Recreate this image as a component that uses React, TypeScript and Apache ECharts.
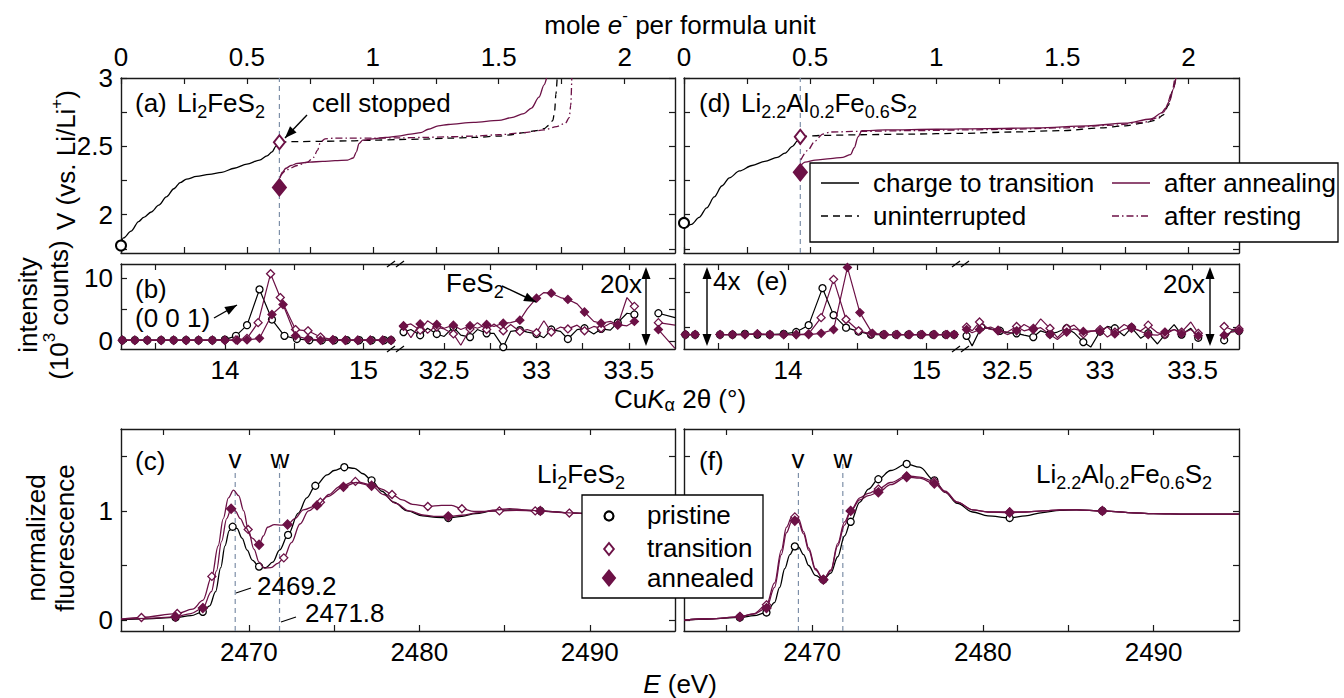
import React, { useEffect, useRef } from 'react';
import * as echarts from 'echarts';

const FONT = '"Liberation Sans", Arial, Helvetica, sans-serif';
const FS = 26;
const PURPLE = '#6c1146';
const BLACK = '#000000';
const FRAME = '#1a1a1a';
const GUIDE = '#7d8fa8';

// ---------- tick values / labels ----------
const moleTicks = [0, 0.25, 0.5, 0.75, 1, 1.25, 1.5, 1.75, 2];
const moleLabels = [0, 0.5, 1, 1.5, 2];
const voltTicks = [1.75, 2, 2.25, 2.5, 2.75, 3];
const voltLabels = [2, 2.5, 3];
const thetaLoTicks = [13.5, 14, 14.5, 15];
const thetaLoLabels = [14, 15];
const thetaHiTicks = [32.5, 32.75, 33, 33.25, 33.5];
const thetaHiLabels = [32.5, 33, 33.5];
const intTicks = [0, 5, 10];
const intLabels = [0, 10];
const eIntTicks = [2.2, 7.7];
const energyTicks = [2465, 2470, 2475, 2480, 2485, 2490];
const energyLabels = [2470, 2480, 2490];
const fluoTicks = [0, 0.5, 1, 1.5];
const fluoLabels = [0, 1];

// ---------- panel (a) Li2FeS2 ----------
const aStopX = 0.629;
const aCharge = [[0, 1.79], [0.01, 1.83], [0.04, 1.88], [0.07, 1.95], [0.09, 1.98], [0.12, 2.02], [0.15, 2.07], [0.18, 2.13], [0.21, 2.19], [0.235, 2.235], [0.26, 2.26], [0.3, 2.28], [0.35, 2.295], [0.4, 2.31], [0.45, 2.34], [0.5, 2.37], [0.55, 2.4], [0.58, 2.43], [0.6, 2.46], [0.615, 2.5], [0.629, 2.53]];
const aUninterrupted = [[0.629, 2.53], [0.7, 2.535], [0.8, 2.537], [0.9, 2.54], [1.0, 2.545], [1.1, 2.55], [1.2, 2.553], [1.3, 2.56], [1.4, 2.565], [1.5, 2.575], [1.55, 2.585], [1.6, 2.6], [1.65, 2.615], [1.68, 2.63], [1.7, 2.655], [1.715, 2.69], [1.722, 2.76], [1.727, 2.88], [1.732, 3.0]];
const aAnnealing = [[0.632, 2.27], [0.64, 2.31], [0.655, 2.34], [0.675, 2.36], [0.7, 2.375], [0.75, 2.385], [0.8, 2.39], [0.85, 2.395], [0.9, 2.4], [0.922, 2.415], [0.935, 2.46], [0.945, 2.52], [0.96, 2.545], [1.0, 2.555], [1.05, 2.565], [1.1, 2.575], [1.15, 2.59], [1.19, 2.6], [1.22, 2.625], [1.26, 2.65], [1.3, 2.66], [1.4, 2.675], [1.5, 2.69], [1.55, 2.71], [1.6, 2.74], [1.63, 2.78], [1.66, 2.86], [1.68, 2.95], [1.69, 3.0]];
const aResting = [[0.632, 2.28], [0.66, 2.33], [0.7, 2.36], [0.74, 2.385], [0.765, 2.42], [0.78, 2.47], [0.792, 2.53], [0.81, 2.555], [0.85, 2.56], [0.9, 2.56], [1.0, 2.56], [1.1, 2.562], [1.2, 2.565], [1.3, 2.57], [1.4, 2.575], [1.5, 2.585], [1.6, 2.6], [1.68, 2.62], [1.73, 2.645], [1.765, 2.67], [1.78, 2.71], [1.786, 2.8], [1.79, 3.0]];
const aPristinePt = [[0, 1.775]];
const aTransitionPt = [[0.629, 2.53]];
const aAnnealedPt = [[0.629, 2.2]];

// ---------- panel (d) Li2.2Al0.2Fe0.6S2 ----------
const dStopX = 0.461;
const dCharge = [[0, 1.9], [0.03, 1.93], [0.06, 1.98], [0.09, 2.05], [0.12, 2.13], [0.15, 2.21], [0.18, 2.27], [0.22, 2.32], [0.27, 2.36], [0.32, 2.39], [0.37, 2.42], [0.4, 2.45], [0.43, 2.5], [0.45, 2.54], [0.461, 2.57]];
const dUninterrupted = [[0.461, 2.57], [0.55, 2.58], [0.7, 2.585], [0.9, 2.59], [1.1, 2.595], [1.3, 2.605], [1.5, 2.615], [1.65, 2.635], [1.75, 2.65], [1.82, 2.67], [1.87, 2.69], [1.9, 2.73], [1.92, 2.8], [1.935, 2.9], [1.95, 3.0]];
const dAnnealing = [[0.463, 2.36], [0.48, 2.385], [0.52, 2.4], [0.58, 2.41], [0.63, 2.42], [0.66, 2.44], [0.675, 2.49], [0.69, 2.57], [0.705, 2.615], [0.8, 2.62], [1.0, 2.625], [1.2, 2.63], [1.4, 2.635], [1.6, 2.65], [1.75, 2.67], [1.85, 2.7], [1.9, 2.75], [1.925, 2.83], [1.94, 2.92], [1.95, 3.0]];
const dResting = [[0.463, 2.4], [0.49, 2.47], [0.52, 2.54], [0.55, 2.59], [0.58, 2.605], [0.7, 2.61], [0.9, 2.615], [1.1, 2.62], [1.3, 2.625], [1.5, 2.635], [1.7, 2.655], [1.82, 2.675], [1.88, 2.71], [1.91, 2.78], [1.935, 2.9], [1.945, 3.0]];
const dPristinePt = [[0, 1.94]];
const dTransitionPt = [[0.461, 2.57]];
const dAnnealedPt = [[0.461, 2.31]];

// ---------- panel (b) XRD Li2FeS2 ----------
const bPristineL = [[13.26, 0.1], [13.35, 0.1], [13.44, 0.1], [13.54, 0.1], [13.63, 0.1], [13.72, 0.1], [13.81, 0.1], [13.91, 0.1], [14.0, 0.2], [14.08, 0.8], [14.16, 2.5], [14.25, 8.2], [14.34, 3.4], [14.43, 0.8], [14.52, 0.3], [14.61, 0.1], [14.7, 0.1], [14.79, 0.1], [14.88, 0.1], [14.97, 0.1], [15.06, 0.1], [15.15, 0.1], [15.2, 0.1]];
const bTransitionL = [[13.26, 0.1], [13.35, 0.1], [13.44, 0.1], [13.54, 0.1], [13.63, 0.1], [13.72, 0.1], [13.81, 0.1], [13.91, 0.1], [14.0, 0.1], [14.08, 0.15], [14.16, 0.4], [14.24, 2.9], [14.33, 10.7], [14.4, 6.9], [14.51, 1.8], [14.6, 1.6], [14.69, 0.6], [14.78, 0.2], [14.87, 0.1], [14.96, 0.1], [15.05, 0.1], [15.14, 0.1], [15.2, 0.1]];
const bAnnealedL = [[13.26, 0.1], [13.35, 0.1], [13.44, 0.1], [13.54, 0.1], [13.63, 0.1], [13.72, 0.1], [13.81, 0.1], [13.91, 0.1], [14.0, 0.1], [14.09, 0.1], [14.16, 0.15], [14.25, 0.4], [14.34, 4.2], [14.42, 5.8], [14.51, 0.8], [14.6, 0.3], [14.69, 0.1], [14.78, 0.1], [14.87, 0.1], [14.96, 0.1], [15.05, 0.1], [15.14, 0.1], [15.2, 0.1]];
const bPristineR = [[32.28, 1.4], [32.32, 1.8], [32.37, 0.9], [32.41, 2.0], [32.46, 1.1], [32.5, 0.7], [32.55, 2.2], [32.59, 0.9], [32.64, 0.6], [32.68, 1.8], [32.73, 1.2], [32.77, 1.2], [32.82, -1.0], [32.86, 1.5], [32.91, 1.7], [32.95, 1.4], [33.0, 1.1], [33.04, 0.5], [33.08, 1.8], [33.13, 1.5], [33.17, 0.3], [33.22, 1.8], [33.26, 2.0], [33.31, 1.1], [33.35, 1.9], [33.4, 1.7], [33.44, 2.9], [33.49, 4.4], [33.53, 4.2], [33.58, null], [33.66, 4.4], [33.75, 3.7]];
const bTransitionR = [[32.28, 2.4], [32.32, 2.7], [32.37, 1.7], [32.41, 3.2], [32.46, 2.2], [32.5, 1.9], [32.55, 1.1], [32.59, -0.7], [32.64, 1.9], [32.68, 2.9], [32.73, 1.8], [32.77, 2.7], [32.82, 1.6], [32.86, 2.6], [32.91, 1.5], [32.95, 1.8], [33.0, 1.3], [33.04, 3.2], [33.08, 1.4], [33.13, 2.2], [33.17, 1.9], [33.22, 2.5], [33.26, 1.6], [33.31, 2.3], [33.35, 2.0], [33.4, 2.8], [33.44, 2.5], [33.49, 6.9], [33.53, 5.5], [33.58, null], [33.66, 2.9], [33.75, 2.5]];
const bAnnealedR = [[32.28, 2.3], [32.32, 0.5], [32.37, 2.7], [32.41, 1.2], [32.46, 2.6], [32.5, 2.0], [32.55, 2.5], [32.59, 1.8], [32.64, 2.4], [32.68, 2.0], [32.73, 2.6], [32.77, 2.3], [32.82, 2.8], [32.86, 2.9], [32.91, 3.3], [32.95, 5.1], [33.0, 6.8], [33.04, 7.7], [33.08, 7.6], [33.13, 6.9], [33.17, 6.6], [33.22, 5.9], [33.26, 4.6], [33.31, 3.1], [33.35, 2.8], [33.4, 3.1], [33.44, 2.6], [33.49, 2.4], [33.53, 3.1], [33.58, null], [33.66, 1.8], [33.75, -1.2]];

// ---------- panel (e) XRD Li2.2Al0.2Fe0.6S2 ----------
const ePristineL = [[13.26, 1.0], [13.33, 1.0], [13.4, null], [13.51, 1.0], [13.6, 1.0], [13.69, 1.1], [13.78, 1.0], [13.87, 1.0], [13.97, 1.1], [14.06, 1.4], [14.15, 2.5], [14.25, 8.4], [14.33, 4.1], [14.42, 2.1], [14.51, 1.5], [14.6, 1.0], [14.69, 1.0], [14.78, 1.0], [14.87, 1.0], [14.96, 1.0], [15.05, 1.0], [15.14, 1.0], [15.2, 1.0]];
const eTransitionL = [[13.26, 1.0], [13.33, 1.0], [13.4, null], [13.51, 1.0], [13.6, 1.0], [13.69, 1.0], [13.78, 1.1], [13.87, 1.0], [13.97, 1.0], [14.06, 1.0], [14.15, 1.1], [14.24, 3.7], [14.33, 9.8], [14.42, 3.4], [14.51, 1.6], [14.6, 1.1], [14.69, 1.0], [14.78, 1.0], [14.87, 1.0], [14.96, 1.0], [15.05, 1.0], [15.14, 1.0], [15.2, 1.0]];
const eAnnealedL = [[13.26, 1.0], [13.33, 1.0], [13.4, null], [13.51, 1.0], [13.6, 1.0], [13.69, 1.0], [13.78, 1.1], [13.87, 1.0], [13.97, 1.0], [14.06, 1.0], [14.15, 1.0], [14.24, 1.2], [14.33, 1.8], [14.43, 11.7], [14.52, 4.5], [14.61, 1.2], [14.7, 1.0], [14.79, 1.0], [14.88, 1.0], [14.97, 1.0], [15.06, 1.0], [15.15, 1.0], [15.2, 1.0]];
const ePristineR = [[32.28, 0.8], [32.31, -0.8], [32.36, 2.2], [32.41, 1.9], [32.46, 1.6], [32.5, 1.3], [32.55, 1.2], [32.59, 0.9], [32.64, 0.6], [32.68, 1.6], [32.73, 1.1], [32.77, 1.4], [32.82, 2.0], [32.86, 1.3], [32.91, -0.2], [32.95, -1.0], [33.0, 1.5], [33.04, 2.3], [33.08, 2.0], [33.13, 0.8], [33.17, 2.1], [33.22, 0.4], [33.26, 1.2], [33.31, -0.5], [33.35, 1.0], [33.4, 2.6], [33.44, 1.0], [33.49, 2.0], [33.53, 0.5], [33.58, null], [33.67, 0.1], [33.71, 1.6], [33.75, 1.6]];
const eTransitionR = [[32.28, 2.2], [32.31, 1.6], [32.35, 3.0], [32.4, 1.9], [32.45, 1.6], [32.5, 1.4], [32.55, 2.3], [32.59, 1.6], [32.64, 2.0], [32.68, 3.5], [32.73, 2.0], [32.77, 0.5], [32.82, 2.0], [32.86, 2.5], [32.91, 1.1], [32.95, 1.5], [33.0, 1.8], [33.04, 0.6], [33.08, 1.4], [33.13, 2.6], [33.17, 2.0], [33.22, 1.6], [33.26, 2.5], [33.31, 1.3], [33.35, 1.0], [33.4, 1.8], [33.44, 1.4], [33.49, 3.0], [33.53, 1.2], [33.58, null], [33.67, 2.3], [33.71, 1.8], [33.75, 1.9]];
const eAnnealedR = [[32.28, 1.8], [32.31, 1.3], [32.35, 1.8], [32.41, 2.2], [32.45, 1.7], [32.5, 1.0], [32.55, 1.6], [32.59, 2.6], [32.64, 1.8], [32.68, 2.1], [32.73, 1.0], [32.77, 0.2], [32.82, 1.4], [32.86, 1.9], [32.91, 1.5], [32.95, 1.6], [33.0, 1.5], [33.04, 2.2], [33.08, 1.1], [33.13, 1.8], [33.17, 2.2], [33.22, 1.5], [33.26, 1.0], [33.31, 0.9], [33.35, 1.4], [33.4, 1.8], [33.44, 1.1], [33.49, 1.8], [33.53, 0.8], [33.58, null], [33.67, 0.9], [33.71, 1.4], [33.75, 1.6]];

// ---------- panel (c) S K-edge XANES Li2FeS2 ----------
const vEnergy = 2469.2;
const wEnergy = 2471.8;
const cPristine = [[2462.5, 0.005], [2464, 0.012], [2465.7, 0.024], [2466.6, 0.04], [2467.3, 0.076], [2467.7, 0.13], [2468.05, 0.26], [2468.35, 0.48], [2468.6, 0.68], [2468.85, 0.82], [2469.05, 0.855], [2469.3, 0.84], [2469.6, 0.75], [2469.9, 0.64], [2470.2, 0.55], [2470.6, 0.49], [2471.0, 0.48], [2471.4, 0.53], [2471.8, 0.64], [2472.3, 0.78], [2472.9, 0.98], [2473.4, 1.12], [2473.9, 1.23], [2474.6, 1.33], [2475.0, 1.37], [2475.6, 1.4], [2476.2, 1.39], [2476.7, 1.34], [2477.2, 1.28], [2477.8, 1.18], [2478.5, 1.08], [2479.3, 1.0], [2480.2, 0.955], [2481.0, 0.94], [2481.7, 0.935], [2482.5, 0.95], [2483.3, 0.975], [2484.3, 1.0], [2485.3, 1.01], [2486.3, 1.005], [2487.1, 1.0], [2488.5, 0.985], [2490, 0.975], [2492, 0.97], [2495, 0.97]];
const cPristineMarks = [2465.7, 2467.3, 2469.05, 2470.6, 2472.3, 2473.9, 2475.6, 2477.2, 2481.7, 2487.1];
const cTransition = [[2462.5, 0.008], [2463.7, 0.024], [2465.8, 0.06], [2466.7, 0.1], [2467.3, 0.18], [2467.83, 0.4], [2468.2, 0.68], [2468.5, 0.93], [2468.8, 1.12], [2469.1, 1.19], [2469.4, 1.14], [2469.7, 1.0], [2469.96, 0.83], [2470.3, 0.65], [2470.6, 0.53], [2470.9, 0.475], [2471.3, 0.48], [2471.7, 0.52], [2472.05, 0.57], [2472.5, 0.71], [2473.0, 0.88], [2473.5, 1.0], [2474.2, 1.08], [2474.7, 1.15], [2475.3, 1.22], [2476.25, 1.27], [2477.2, 1.24], [2477.8, 1.2], [2478.4, 1.15], [2479.0, 1.1], [2479.6, 1.06], [2480.5, 1.04], [2481.3, 1.05], [2481.9, 1.05], [2482.5, 1.02], [2483.2, 0.995], [2484.0, 0.995], [2484.7, 1.0], [2485.7, 1.005], [2486.8, 1.0], [2488.0, 0.99], [2488.8, 0.98], [2490.9, 0.975], [2493.0, 0.97], [2495, 0.97]];
const cTransitionMarks = [2463.7, 2465.8, 2467.83, 2469.96, 2472.05, 2474.2, 2476.25, 2478.4, 2480.5, 2482.5, 2484.7, 2486.8, 2488.8, 2490.9, 2493.0];
const cAnnealed = [[2462.5, 0.008], [2464, 0.015], [2465.7, 0.03], [2466.6, 0.06], [2467.3, 0.11], [2467.8, 0.26], [2468.1, 0.45], [2468.4, 0.72], [2468.7, 0.93], [2468.96, 1.02], [2469.2, 1.0], [2469.5, 0.93], [2469.8, 0.85], [2470.2, 0.75], [2470.6, 0.69], [2470.85, 0.77], [2471.1, 0.85], [2471.5, 0.875], [2471.9, 0.87], [2472.27, 0.875], [2472.7, 0.93], [2473.2, 1.01], [2474.0, 1.05], [2474.6, 1.13], [2475.55, 1.22], [2476.3, 1.26], [2477.2, 1.23], [2477.9, 1.15], [2478.6, 1.07], [2479.4, 1.0], [2480.3, 0.96], [2481.0, 0.95], [2481.7, 0.95], [2482.5, 0.96], [2483.5, 0.985], [2484.5, 1.01], [2485.3, 1.02], [2486.2, 1.01], [2487.1, 1.0], [2488.5, 0.985], [2490, 0.975], [2492, 0.97], [2495, 0.97]];
const cAnnealedMarks = [2465.7, 2467.3, 2468.96, 2470.6, 2472.27, 2474.0, 2475.55, 2477.2, 2481.7, 2487.1];

// ---------- panel (f) S K-edge XANES Li2.2Al0.2Fe0.6S2 ----------
const fPristine = [[2462.5, 0.0], [2464, 0.01], [2465.77, 0.024], [2466.6, 0.04], [2467.33, 0.07], [2467.8, 0.16], [2468.1, 0.3], [2468.4, 0.47], [2468.7, 0.6], [2468.99, 0.675], [2469.2, 0.67], [2469.5, 0.6], [2469.8, 0.5], [2470.2, 0.41], [2470.66, 0.37], [2471.1, 0.43], [2471.5, 0.58], [2471.9, 0.77], [2472.26, 0.9], [2472.8, 1.08], [2473.3, 1.2], [2473.88, 1.29], [2474.6, 1.37], [2475.54, 1.43], [2476.3, 1.4], [2477.16, 1.28], [2477.8, 1.17], [2478.5, 1.07], [2479.4, 0.99], [2480.3, 0.955], [2481.57, 0.935], [2482.5, 0.955], [2483.5, 0.985], [2484.5, 1.005], [2485.5, 1.01], [2487, 1.0], [2488.5, 0.985], [2490, 0.975], [2492, 0.97], [2495, 0.97]];
const fTransition = [[2462.5, 0.0], [2464, 0.012], [2465.77, 0.03], [2466.6, 0.06], [2467.33, 0.14], [2467.8, 0.34], [2468.2, 0.64], [2468.5, 0.85], [2468.8, 0.94], [2468.99, 0.945], [2469.2, 0.93], [2469.5, 0.81], [2469.8, 0.66], [2470.2, 0.47], [2470.66, 0.37], [2471.1, 0.45], [2471.5, 0.68], [2471.9, 0.87], [2472.26, 1.0], [2472.8, 1.12], [2473.3, 1.16], [2473.88, 1.2], [2474.6, 1.26], [2475.54, 1.32], [2476.3, 1.31], [2477.16, 1.27], [2477.8, 1.18], [2478.5, 1.08], [2479.4, 1.01], [2480.3, 0.99], [2481.57, 0.99], [2482.5, 0.99], [2483.5, 1.0], [2484.5, 1.01], [2485.5, 1.01], [2487, 1.0], [2488.5, 0.985], [2490, 0.975], [2492, 0.97], [2495, 0.97]];
const fAnnealed = [[2462.5, 0.0], [2464, 0.012], [2465.77, 0.03], [2466.6, 0.055], [2467.33, 0.11], [2467.8, 0.3], [2468.2, 0.6], [2468.5, 0.8], [2468.8, 0.9], [2468.99, 0.91], [2469.2, 0.9], [2469.5, 0.79], [2469.8, 0.64], [2470.2, 0.46], [2470.66, 0.37], [2471.1, 0.46], [2471.5, 0.7], [2471.9, 0.9], [2472.26, 1.0], [2472.8, 1.1], [2473.3, 1.14], [2473.88, 1.17], [2474.6, 1.24], [2475.54, 1.31], [2476.3, 1.3], [2477.16, 1.25], [2477.8, 1.17], [2478.5, 1.08], [2479.4, 1.01], [2480.3, 0.99], [2481.57, 0.985], [2482.5, 0.99], [2483.5, 1.0], [2484.5, 1.01], [2485.5, 1.01], [2487, 1.0], [2488.5, 0.985], [2490, 0.975], [2492, 0.97], [2495, 0.97]];
const fMarks = [2465.77, 2467.33, 2468.99, 2470.66, 2472.26, 2473.88, 2475.54, 2477.16, 2481.57, 2487];

// ---------- layout ----------
const grids = [
  { left: 121, top: 78, width: 554, height: 175 }, // a
  { left: 684, top: 78, width: 555, height: 175 }, // d
  { left: 121, top: 264, width: 277, height: 85 }, // b low
  { left: 398, top: 264, width: 277, height: 85 }, // b high
  { left: 684, top: 264, width: 277, height: 85 }, // e low
  { left: 961, top: 264, width: 278, height: 85 }, // e high
  { left: 121, top: 429, width: 554, height: 202 }, // c
  { left: 684, top: 429, width: 555, height: 202 }, // f
];

const fmt = (v: number) => String(v);

function axis(gridIndex: number, position: string, min: number, max: number, ticks: number[], labels: number[] | null, showLine = true) {
  return {
    type: 'value',
    gridIndex,
    position,
    min,
    max,
    axisLine: { show: showLine, onZero: false, lineStyle: { color: FRAME, width: 1.4 } },
    axisTick: { show: showLine, inside: true, length: 6, customValues: ticks, lineStyle: { color: FRAME, width: 1.2 } },
    axisLabel: { show: !!labels, customValues: labels || [], formatter: fmt, fontFamily: FONT, fontSize: FS, color: '#000', margin: 8 },
    splitLine: { show: false },
    minorTick: { show: false },
  };
}

function mkRich(lh: number) {
  return {
    n: { fontFamily: FONT, fontSize: FS, color: '#000', lineHeight: lh },
    i: { fontFamily: FONT, fontSize: FS, fontStyle: 'italic', color: '#000', lineHeight: lh },
    s: { fontFamily: FONT, fontSize: 18, color: '#000', verticalAlign: 'bottom', lineHeight: 18 },
    p: { fontFamily: FONT, fontSize: 17, color: '#000', verticalAlign: 'top', lineHeight: 18 },
  };
}
const rich = mkRich(36);
const richTight = mkRich(30);

function txt(x: number, y: number, text: string, align = 'left', rotation = 0, r: any = rich) {
  return { type: 'text', x, y, rotation, z: 60, silent: true, style: { text, rich: r, align, verticalAlign: 'middle', fontFamily: FONT, fontSize: FS, fill: '#000' } };
}
function seg(x1: number, y1: number, x2: number, y2: number, stroke = '#000', lineWidth = 1.4, lineDash: number[] | null = null, z = 60) {
  return { type: 'line', z, silent: true, shape: { x1, y1, x2, y2 }, style: { stroke, lineWidth, lineDash } };
}
function head(x1: number, y1: number, x2: number, y2: number, len = 12, half = 4.5) {
  const dx = x2 - x1, dy = y2 - y1, L = Math.hypot(dx, dy), ux = dx / L, uy = dy / L;
  const bx = x2 - ux * len, by = y2 - uy * len;
  return { type: 'polygon', z: 61, silent: true, shape: { points: [[x2, y2], [bx - uy * half, by + ux * half], [bx + uy * half, by - ux * half]] }, style: { fill: '#000' } };
}
function arrow(x1: number, y1: number, x2: number, y2: number) {
  return [seg(x1, y1, x2, y2), head(x1, y1, x2, y2)];
}
function dbl(x: number, y1: number, y2: number) {
  return [seg(x, y1 + 4, x, y2 - 4), head(x, y2, x, y1), head(x, y1, x, y2)];
}
function brk(cx: number, top: number, bottom: number) {
  const out: any[] = [];
  [top, bottom].forEach((e) => {
    out.push(seg(cx - 10, e + 3, cx - 2, e - 3, '#000', 1.2));
    out.push(seg(cx - 1, e + 3, cx + 7, e - 3, '#000', 1.2));
  });
  return out;
}
function diamond(cx: number, cy: number, r: number, fill: string, stroke: string) {
  return { type: 'polygon', z: 61, silent: true, shape: { points: [[cx, cy - r], [cx + r * 0.8, cy], [cx, cy + r], [cx - r * 0.8, cy]] }, style: { fill, stroke, lineWidth: 2 } };
}

function curve(ax: number, data: any[], color: string, dash: any = 'solid', width = 1.3, z = 3, smooth: any = 0.3) {
  return { type: 'line', xAxisIndex: ax, yAxisIndex: ax, data, showSymbol: false, symbol: 'none', smooth, smoothMonotone: 'x', lineStyle: { color, width, type: dash }, silent: true, z, animation: false };
}
function pts(ax: number, data: any[], sym: string, size: any, fill: string, stroke: string, z = 5) {
  return { type: 'scatter', xAxisIndex: ax, yAxisIndex: ax, data, symbol: sym, symbolSize: size, itemStyle: { color: fill, borderColor: stroke, borderWidth: 2, opacity: 1 }, silent: true, z, animation: false };
}
// every: draw a marker on every n-th measured point (the others are plain vertices of the polyline)
function dots(ax: number, data: any[], color: string, sym: string, fill: string, size: number, z: number, every = 1) {
  const d = data.map((p: any[], i: number) => (p[1] === null ? p : i % every === 0 ? { value: p } : { value: p, symbol: 'none', symbolSize: 0 }));
  return { type: 'line', xAxisIndex: ax, yAxisIndex: ax, data: d, showSymbol: true, symbol: sym, symbolSize: size, connectNulls: false, lineStyle: { color, width: 1.2 }, itemStyle: { color: fill, borderColor: color, borderWidth: 1.3 }, silent: true, z, animation: false };
}
function xanes(ax: number, data: number[][], marks: number[], color: string, sym: string, fill: string, size: number, z: number) {
  const d = data.map(([x, y]) => (marks.includes(x) ? { value: [x, y], symbol: sym, symbolSize: size } : { value: [x, y], symbol: 'none', symbolSize: 0 }));
  return { type: 'line', xAxisIndex: ax, yAxisIndex: ax, data: d, showSymbol: true, symbol: sym, symbolSize: size, smooth: 0.35, smoothMonotone: 'x', lineStyle: { color, width: 1.3 }, itemStyle: { color: fill, borderColor: color, borderWidth: 1.3 }, silent: true, z, animation: false };
}

function buildOption() {
  const V = [1.72, 3.0];
  const M = [0, 2.2];
  const TL = [13.25, 15.25];
  const TH = [32.25, 33.75];
  const I = [-1.3, 12.25];
  const E = [2462.5, 2495];
  const F = [-0.1, 1.75];

  const xAxis = [
    axis(0, 'bottom', M[0], M[1], moleTicks, null), axis(0, 'top', M[0], M[1], moleTicks, moleLabels),
    axis(1, 'bottom', M[0], M[1], moleTicks, null), axis(1, 'top', M[0], M[1], moleTicks, moleLabels),
    axis(2, 'bottom', TL[0], TL[1], thetaLoTicks, thetaLoLabels), axis(2, 'top', TL[0], TL[1], thetaLoTicks, null),
    axis(3, 'bottom', TH[0], TH[1], thetaHiTicks, thetaHiLabels), axis(3, 'top', TH[0], TH[1], thetaHiTicks, null),
    axis(4, 'bottom', TL[0], TL[1], thetaLoTicks, thetaLoLabels), axis(4, 'top', TL[0], TL[1], thetaLoTicks, null),
    axis(5, 'bottom', TH[0], TH[1], thetaHiTicks, thetaHiLabels), axis(5, 'top', TH[0], TH[1], thetaHiTicks, null),
    axis(6, 'bottom', E[0], E[1], energyTicks, energyLabels), axis(6, 'top', E[0], E[1], energyTicks, null),
    axis(7, 'bottom', E[0], E[1], energyTicks, energyLabels), axis(7, 'top', E[0], E[1], energyTicks, null),
  ];
  const yAxis = [
    axis(0, 'left', V[0], V[1], voltTicks, voltLabels), axis(0, 'right', V[0], V[1], voltTicks, null),
    axis(1, 'left', V[0], V[1], voltTicks, null), axis(1, 'right', V[0], V[1], voltTicks, null),
    axis(2, 'left', I[0], I[1], intTicks, intLabels), axis(2, 'right', I[0], I[1], [], null, false),
    axis(3, 'left', I[0], I[1], [], null, false), axis(3, 'right', I[0], I[1], intTicks, null),
    axis(4, 'left', I[0], I[1], eIntTicks, null), axis(4, 'right', I[0], I[1], [], null, false),
    axis(5, 'left', I[0], I[1], [], null, false), axis(5, 'right', I[0], I[1], eIntTicks, null),
    axis(6, 'left', F[0], F[1], fluoTicks, fluoLabels), axis(6, 'right', F[0], F[1], fluoTicks, null),
    axis(7, 'left', F[0], F[1], fluoTicks, null), axis(7, 'right', F[0], F[1], fluoTicks, null),
  ];

  const series: any[] = [
    // (a)
    curve(0, [[aStopX, V[0]], [aStopX, V[1]]], GUIDE, [5, 4], 1.2, 2, false),
    curve(0, aCharge, BLACK),
    curve(0, aUninterrupted, BLACK, [7, 5]),
    curve(0, aResting, PURPLE, [7, 3, 1.5, 3]),
    curve(0, aAnnealing, PURPLE),
    pts(0, aPristinePt, 'circle', 10, '#fff', BLACK),
    pts(0, aTransitionPt, 'diamond', [11, 14], '#fff', PURPLE),
    pts(0, aAnnealedPt, 'diamond', [13, 16], PURPLE, PURPLE),
    // (d)
    curve(2, [[dStopX, V[0]], [dStopX, V[1]]], GUIDE, [5, 4], 1.2, 2, false),
    curve(2, dCharge, BLACK),
    curve(2, dUninterrupted, BLACK, [7, 5]),
    curve(2, dResting, PURPLE, [7, 3, 1.5, 3]),
    curve(2, dAnnealing, PURPLE),
    pts(2, dPristinePt, 'circle', 10, '#fff', BLACK),
    pts(2, dTransitionPt, 'diamond', [11, 14], '#fff', PURPLE),
    pts(2, dAnnealedPt, 'diamond', [13, 16], PURPLE, PURPLE),
    // (b)
    dots(4, bPristineL, BLACK, 'circle', '#fff', 7, 3),
    dots(4, bTransitionL, PURPLE, 'diamond', '#fff', 8, 4),
    dots(4, bAnnealedL, PURPLE, 'diamond', PURPLE, 8, 5),
    dots(6, bPristineR, BLACK, 'circle', '#fff', 7, 3, 2),
    dots(6, bTransitionR, PURPLE, 'diamond', '#fff', 8, 4, 2),
    dots(6, bAnnealedR, PURPLE, 'diamond', PURPLE, 8, 5, 2),
    // (e)
    dots(8, ePristineL, BLACK, 'circle', '#fff', 7, 3),
    dots(8, eTransitionL, PURPLE, 'diamond', '#fff', 8, 4),
    dots(8, eAnnealedL, PURPLE, 'diamond', PURPLE, 8, 5),
    dots(10, ePristineR, BLACK, 'circle', '#fff', 7, 3, 2),
    dots(10, eTransitionR, PURPLE, 'diamond', '#fff', 8, 4, 2),
    dots(10, eAnnealedR, PURPLE, 'diamond', PURPLE, 8, 5, 2),
    // (c)
    curve(12, [[vEnergy, 1.43], [vEnergy, F[0]]], GUIDE, [5, 4], 1.2, 2, false),
    curve(12, [[wEnergy, 1.43], [wEnergy, F[0]]], GUIDE, [5, 4], 1.2, 2, false),
    xanes(12, cPristine, cPristineMarks, BLACK, 'circle', '#fff', 7, 3),
    xanes(12, cTransition, cTransitionMarks, PURPLE, 'diamond', '#fff', 8, 4),
    xanes(12, cAnnealed, cAnnealedMarks, PURPLE, 'diamond', PURPLE, 9, 5),
    // (f)
    curve(14, [[vEnergy, 1.43], [vEnergy, F[0]]], GUIDE, [5, 4], 1.2, 2, false),
    curve(14, [[wEnergy, 1.43], [wEnergy, F[0]]], GUIDE, [5, 4], 1.2, 2, false),
    xanes(14, fPristine, fMarks, BLACK, 'circle', '#fff', 7, 3),
    xanes(14, fTransition, fMarks, PURPLE, 'diamond', '#fff', 8, 4),
    xanes(14, fAnnealed, fMarks, PURPLE, 'diamond', PURPLE, 9, 5),
  ];

  const graphic: any[] = [
    // axis titles
    txt(680, 25, '{n|mole\u00a0}{i|e}{p|-}{n|\u00a0per formula unit}', 'center'),
    txt(66, 160, '{n|V (vs. Li/Li}{p|+}{n|)}', 'center', Math.PI / 2),
    txt(28, 305, '{n|intensity}', 'center', Math.PI / 2),
    txt(59, 310, '{n|(10}{p|3}{n|\u00a0counts)}', 'center', Math.PI / 2),
    txt(680, 399, '{n|Cu}{i|K}{s|α}{n|\u00a02θ (°)}', 'center', 0, richTight),
    txt(36, 538, '{n|normalized}', 'center', Math.PI / 2),
    txt(65, 538, '{n|fluorescence}', 'center', Math.PI / 2),
    txt(680, 684, '{i|E}{n|\u00a0(eV)}', 'center', 0, richTight),
    // panel (a)
    txt(135, 103, '{n|(a)}'),
    txt(177, 103, '{n|Li}{s|2}{n|FeS}{s|2}'),
    txt(312, 103, '{n|cell stopped}'),
    ...arrow(307, 115, 285, 138),
    // panel (d)
    txt(699, 103, '{n|(d)}'),
    txt(741, 103, '{n|Li}{s|2.2}{n|Al}{s|0.2}{n|Fe}{s|0.6}{n|S}{s|2}'),
    // panel (b)
    txt(135, 289, '{n|(b)}'),
    txt(135, 318, '{n|(0 0 1)}'),
    ...arrow(214, 318, 237, 305),
    txt(446, 283, '{n|FeS}{s|2}'),
    ...arrow(502, 286, 536, 302),
    txt(600, 284, '{n|20x}'),
    ...dbl(646, 267, 346),
    ...brk(397, 264, 349),
    // panel (e)
    ...dbl(707, 267, 346),
    txt(713, 281, '{n|4x}'),
    txt(756, 281, '{n|(e)}'),
    txt(1163, 284, '{n|20x}'),
    ...dbl(1210, 267, 346),
    ...brk(962, 264, 349),
    // panel (c)
    txt(135, 461, '{n|(c)}'),
    txt(235, 459, '{n|v}', 'center'),
    txt(280, 459, '{n|w}', 'center'),
    txt(537, 474, '{n|Li}{s|2}{n|FeS}{s|2}'),
    txt(257, 586, '{n|2469.2}'),
    seg(236, 593, 251, 588, '#000', 1.2),
    txt(305, 613, '{n|2471.8}'),
    seg(281, 622, 296, 617, '#000', 1.2),
    // panel (f)
    txt(699, 461, '{n|(f)}'),
    txt(798, 459, '{n|v}', 'center'),
    txt(843, 459, '{n|w}', 'center'),
    txt(1036, 474, '{n|Li}{s|2.2}{n|Al}{s|0.2}{n|Fe}{s|0.6}{n|S}{s|2}'),
    // legend (voltage)
    { type: 'rect', z: 55, silent: true, shape: { x: 810, y: 163, width: 528, height: 79 }, style: { fill: '#fff', stroke: '#000', lineWidth: 1.3 } },
    seg(821, 183, 859, 183, BLACK, 1.3),
    txt(873, 183, '{n|charge to transition}'),
    seg(1112, 183, 1150, 183, PURPLE, 1.3),
    txt(1164, 183, '{n|after annealing}'),
    seg(821, 216, 859, 216, BLACK, 1.3, [7, 5]),
    txt(873, 216, '{n|uninterrupted}'),
    seg(1112, 216, 1150, 216, PURPLE, 1.3, [7, 3, 1.5, 3]),
    txt(1164, 216, '{n|after resting}'),
    // legend (XANES)
    { type: 'rect', z: 55, silent: true, shape: { x: 582, y: 495, width: 181, height: 103 }, style: { fill: '#fff', stroke: '#000', lineWidth: 1.3 } },
    { type: 'circle', z: 61, silent: true, shape: { cx: 609, cy: 516, r: 4.5 }, style: { fill: '#fff', stroke: '#000', lineWidth: 2.2 } },
    txt(647, 515, '{n|pristine}'),
    diamond(609, 549, 6, '#fff', PURPLE),
    txt(647, 548, '{n|transition}'),
    diamond(609, 578, 7.5, PURPLE, PURPLE),
    txt(647, 578, '{n|annealed}'),
  ];

  return {
    animation: false,
    backgroundColor: '#ffffff',
    grid: grids.map((g) => ({ ...g, containLabel: false, outerBoundsMode: 'none' })),
    xAxis,
    yAxis,
    series,
    graphic,
  };
}

export default function App() {
  const ref = useRef<HTMLDivElement>(null);
  useEffect(() => {
    if (!ref.current) return;
    const chart = echarts.init(ref.current, null, { renderer: 'svg' });
    chart.setOption(buildOption() as any);
    return () => chart.dispose();
  }, []);
  return <div ref={ref} style={{ position: 'absolute', left: 0, top: 0, width: 1344, height: 698, background: '#fff' }} />;
}
